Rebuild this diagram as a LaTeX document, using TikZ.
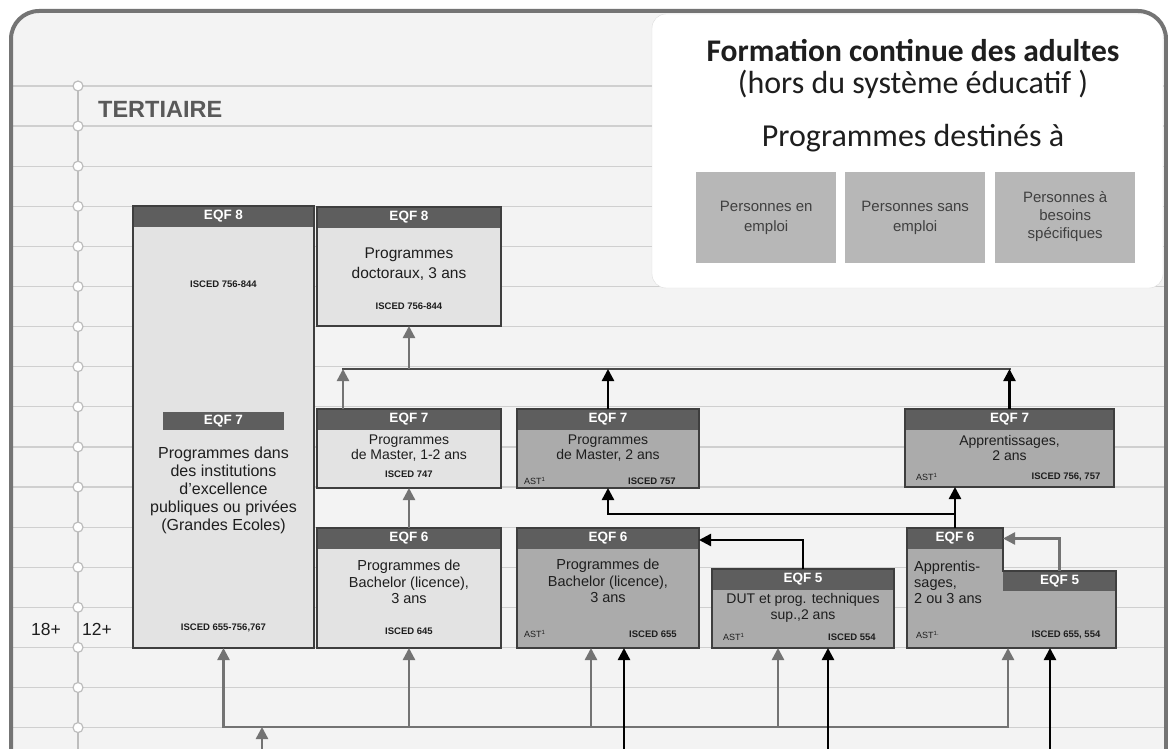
\documentclass[tikz,border=0pt]{standalone}
\usepackage{fontspec}
\setmainfont{Liberation Sans}
\newfontfamily\carl{Carlito}
\usetikzlibrary{arrows.meta}

\definecolor{bgc}{HTML}{F3F3F3}
\definecolor{framec}{HTML}{747474}
\definecolor{gridc}{HTML}{CFCFCF}
\definecolor{circc}{HTML}{BDBDBD}
\definecolor{lightfill}{HTML}{E3E3E3}
\definecolor{darkfill}{HTML}{ABABAB}
\definecolor{hdrc}{HTML}{5E5E5E}
\definecolor{edgec}{HTML}{3E3E3E}
\definecolor{arrgray}{HTML}{737373}
\definecolor{busc}{HTML}{4A4A4A}
\definecolor{tagfill}{HTML}{B7B7B7}
\definecolor{txt}{HTML}{1E1E1E}

\tikzset{
  lightbox/.style={fill=lightfill, inner sep=0pt, outer sep=0pt},
  darkbox/.style={fill=darkfill, inner sep=0pt, outer sep=0pt},
  boxedge/.style={draw=edgec, line width=1.3pt},
  hdrtext/.style={text=white, inner sep=0pt, font=\bfseries\fontsize{13.5}{14}\selectfont},
  hdrcell/.style={fill=hdrc, inner sep=0pt, outer sep=0pt, anchor=north west},
  bodytext/.style={text=txt, align=center, inner sep=0pt, font=\fontsize{14}{15.5}\selectfont},
  isced/.style={text=txt, inner sep=0pt, font=\bfseries\fontsize{9.5}{10}\selectfont},
  asttext/.style={text=txt, inner sep=0pt, anchor=west, font=\fontsize{9}{10}\selectfont},
  garrow/.style={draw=arrgray, line width=2.4pt, -{Triangle[width=12pt,length=12pt]}},
  barrow/.style={draw=black, line width=2.4pt, -{Triangle[width=12pt,length=12pt]}},
  bline/.style={draw=busc, line width=2.4pt, line cap=rect},
  gline/.style={draw=arrgray, line width=2.4pt, line cap=rect},
  gridline/.style={draw=gridc, line width=1.2pt},
  dot/.style={draw=circc, fill=white, line width=1.2pt},
  tagbox/.style={fill=tagfill, inner sep=0pt, anchor=north west},
  tagtext/.style={text=txt!85, align=center, inner sep=0pt, font=\fontsize{15}{19.5}\selectfont},
}

% box with a dark header band: name, x, y, width, height, fill style, header
\newcommand\eqfbox[7]{%
  \node[#6, anchor=north west, minimum width=#4pt, minimum height=#5pt] (#1) at (#2,#3) {};
  \fill[hdrc] (#1.north west) rectangle ([yshift=-21pt]#1.north east);
  \node[hdrtext] at ([yshift=-10.5pt]#1.north) {#7};
  \draw[boxedge] (#1.north west) rectangle (#1.south east);
}

\begin{document}
\begin{tikzpicture}[x=1pt, y=-1pt]
\useasboundingbox (0,0) rectangle (1168,749);
\clip (0,0) rectangle (1168,749);
\fill[white] (0,0) rectangle (1168,749);

% outer frame
\fill[bgc, rounded corners=28pt] (11,800) -- (11,11) -- (1166,11) -- (1166,800) -- cycle;

% ruled lines
\foreach \k in {0,...,16} {
  \draw[gridline] (13,{86+40.1*\k}) -- (1165,{86+40.1*\k});
}

% adult education panel
\draw[draw=gridc!70, fill=white, rounded corners=14pt] (652,14) rectangle (1163,288);
\node[text=txt, inner sep=0pt, font=\carl\bfseries\fontsize{31.5}{33}\selectfont] (title) at (913,51) {Formation continue des adultes};
\node[text=txt, inner sep=0pt, font=\carl\fontsize{32}{34}\selectfont] (subtitle) at (913,84) {(hors du système éducatif )};
\node[text=txt, inner sep=0pt, font=\carl\fontsize{32}{34}\selectfont] (dest) at (913,138) {Programmes destinés à};
\node[tagbox, minimum width=140pt, minimum height=91pt] (t1) at (696,172) {};
\node[tagbox, minimum width=140pt, minimum height=91pt] (t2) at (845,172) {};
\node[tagbox, minimum width=140pt, minimum height=91pt] (t3) at (995,172) {};
\node[tagtext] at (t1) {Personnes en\\emploi};
\node[tagtext] at (t2) {Personnes sans\\emploi};
\node[tagtext, font=\fontsize{15}{18}\selectfont] at ([yshift=1pt]t3) {Personnes à\\besoins\\spécifiques};

\draw[draw=framec, line width=4pt, rounded corners=28pt] (11,800) -- (11,11) -- (1166,11) -- (1166,800);

% age scale
\draw[draw=circc, line width=1.2pt] (78,86) -- (78,760);
\foreach \k in {0,...,16} {
  \draw[dot] (78,{86+40.1*\k}) circle (5pt);
}
\node[anchor=west, inner sep=0pt, text=black!65, font=\bfseries\fontsize{23.5}{25}\selectfont] (tert) at (98,109) {TERTIAIRE};
\node[inner sep=0pt, text=txt, font=\fontsize{17.5}{18}\selectfont] (age18) at (46,629) {18+};
\node[anchor=west, inner sep=0pt, text=txt, font=\fontsize{17.5}{18}\selectfont] (age12) at (82,629) {12+};

% ---- programme boxes ----
% Grandes Ecoles
\eqfbox{A}{133}{206}{181}{442}{lightbox}{EQF 8}
\node[isced] at (223.5,284) {ISCED 756-844};
\node[hdrcell, minimum width=121pt, minimum height=18pt] (A7) at (163,412) {};
\node[hdrtext] at (A7) {EQF 7};
\node[bodytext, font=\fontsize{16}{18}\selectfont] at (223.5,490) {Programmes dans\\des institutions\\d'excellence\\publiques ou privées\\(Grandes Ecoles)};
\node[isced] at (223.5,628) {ISCED 655-756,767};

% doctorate
\eqfbox{B}{317}{207}{184}{119}{lightbox}{EQF 8}
\node[bodytext, font=\fontsize{15.5}{20}\selectfont] at (409,264) {Programmes\\doctoraux, 3 ans};
\node[isced] at (409,306) {ISCED 756-844};

% master 1-2 years
\eqfbox{C}{317}{409}{184}{79}{lightbox}{EQF 7}
\node[bodytext] at (409,448) {Programmes\\de Master, 1-2 ans};
\node[isced] at (409,474) {ISCED 747};

% master 2 years
\eqfbox{D}{517}{409}{182}{79}{darkbox}{EQF 7}
\node[bodytext] at (608,448) {Programmes\\de Master, 2 ans};
\node[asttext] at (524,481) {AST\textsuperscript{1}};
\node[isced] at (652,481) {ISCED 757};

% apprenticeship EQF 7
\eqfbox{F}{905}{409}{209}{78}{darkbox}{EQF 7}
\node[bodytext] at (1009.5,448) {Apprentissages,\\2 ans};
\node[asttext] at (916,477) {AST\textsuperscript{1}};
\node[isced] at (1066,477) {ISCED 756, 757};

% bachelor (light)
\eqfbox{E}{317}{528}{184}{120}{lightbox}{EQF 6}
\node[bodytext, font=\fontsize{14.5}{16.5}\selectfont] at (409,582) {Programmes de\\Bachelor (licence),\\3 ans};
\node[isced] at (409,631) {ISCED 645};

% bachelor (dark)
\eqfbox{H}{517}{528}{182}{120}{darkbox}{EQF 6}
\node[bodytext, font=\fontsize{14.5}{16.5}\selectfont] at (608,581) {Programmes de\\Bachelor (licence),\\3 ans};
\node[asttext] at (524,634) {AST\textsuperscript{1}};
\node[isced] at (653,634) {ISCED 655};

% DUT
\eqfbox{I}{712}{569}{182}{79}{darkbox}{EQF 5}
\node[bodytext] at (803,608) {DUT et prog. techniques\\sup.,2 ans};
\node[asttext] at (723,637) {AST\textsuperscript{1}};
\node[isced] at (852,637) {ISCED 554};

% apprenticeship EQF 6 / EQF 5 (stepped box)
\node[inner sep=0pt, outer sep=0pt, anchor=north west, minimum width=209pt, minimum height=120pt] (G) at (907,528) {};
\fill[darkfill] (907,528) -- (1003,528) -- (1003,571) -- (1116,571) -- (1116,648) -- (907,648) -- cycle;
\node[hdrcell, minimum width=96pt, minimum height=21pt] (G6) at (907,528) {};
\node[hdrtext] at (G6) {EQF 6};
\node[hdrcell, minimum width=113pt, minimum height=20pt] (G5) at (1003,571) {};
\node[hdrtext] at (G5) {EQF 5};
\draw[boxedge] (907,528) -- (1003,528) -- (1003,571) -- (1116,571) -- (1116,648) -- (907,648) -- cycle;
\node[bodytext, anchor=west, align=left, font=\fontsize{14.5}{16}\selectfont] at (914,582) {Apprentis-\\sages,\\2 ou 3 ans};
\node[asttext] at (916,635) {AST\textsuperscript{1.}};
\node[isced] at (1066,635) {ISCED 655, 554};

% ---- connectors ----
% upper bus towards the doctorate
\coordinate (busT) at (343,369);
\draw[bline] (busT) -- (busT -| F.north);
\draw[garrow] (C.north west -| busT) -- (busT);
\draw[garrow] (B.south |- busT) -- (B.south);
\draw[barrow] (D.north) -- (D.north |- busT);
\draw[barrow] (F.north) -- (F.north |- busT);

% bachelor to master
\draw[garrow] (E.north) -- (C.south);
\coordinate (busM) at (955,514);
\draw[barrow] (G6.north) -- (G6.north |- F.south);
\draw[barrow, line cap=rect] (busM) -| (D.south);

% EQF 5 to EQF 6
\draw[barrow] (I.north) |- ([yshift=-12pt]H.north east);
\draw[garrow] (G5.north) |- (G6.east);

% lower bus from secondary level
\coordinate (busB) at (223.5,727);
\coordinate (busBend) at (1008,727);
\draw[gline] (busB) -- (busBend);
\draw[garrow] (busB) -- (A.south);
\draw[garrow] (E.south |- busB) -- (E.south);
\draw[garrow] ([xshift=-17pt]H.south |- busB) -- ([xshift=-17pt]H.south);
\draw[garrow] ([xshift=-25pt]I.south |- busB) -- ([xshift=-25pt]I.south);
\draw[garrow] (busBend) -- (busBend |- G.south);
\coordinate (src) at (262,760);
\draw[garrow] (src) -- (src |- busB);

% direct entries
\coordinate (b1) at (624,760);
\coordinate (b2) at (828,760);
\coordinate (b3) at (1050,760);
\draw[barrow] (b1) -- (b1 |- H.south);
\draw[barrow] (b2) -- (b2 |- I.south);
\draw[barrow] (b3) -- (b3 |- G.south);
\end{tikzpicture}
\end{document}
